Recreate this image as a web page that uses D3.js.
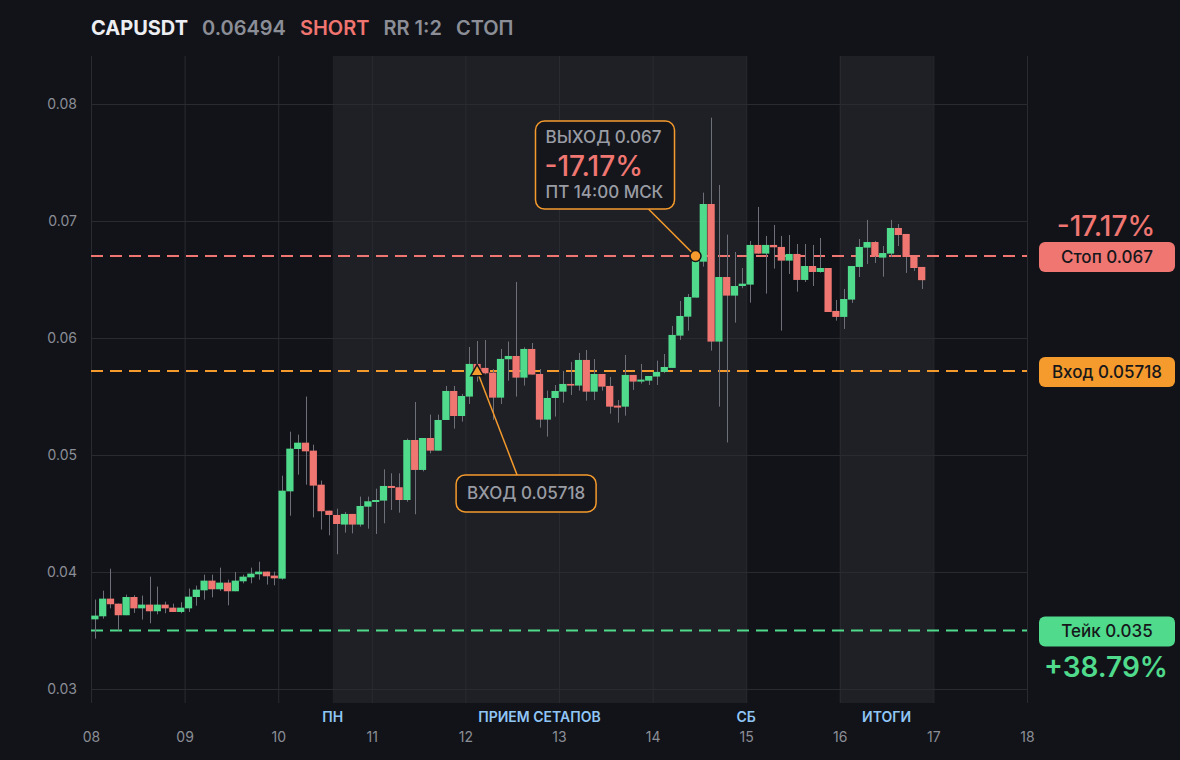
<!DOCTYPE html>
<html>
<head>
<meta charset="utf-8">
<script src="https://cdn.jsdelivr.net/npm/d3@7"></script>
<style>
  html, body { margin: 0; padding: 0; background: #121318; }
  svg { display: block; font-family: Inter, "Noto Sans", sans-serif; }
</style>
</head>
<body>
<div id="chart"></div>
<script>
// ---- data (2h candles, CAPUSDT) ----
var candleStart = Date.UTC(2025, 10, 8, 0);
var candleHours = 2;

var opens = [
  0.03595, 0.03621, 0.03772, 0.03729, 0.03630, 0.03786, 0.03689, 0.03721, 0.03664, 0.03721,
  0.03695, 0.03658, 0.03689, 0.03786, 0.03843, 0.03926, 0.03852, 0.03909, 0.03835, 0.03920,
  0.03954, 0.03980, 0.04003, 0.03969, 0.03943, 0.04689, 0.05051, 0.05105, 0.05037, 0.04746,
  0.04524, 0.04487, 0.04405, 0.04496, 0.04405, 0.04558, 0.04598, 0.04610, 0.04735, 0.04724,
  0.04615, 0.05128, 0.04872, 0.05145, 0.05037, 0.05299, 0.05547, 0.05333, 0.05499, 0.05778,
  0.05744, 0.05704, 0.05490, 0.05818, 0.05846, 0.05661, 0.05906, 0.05692, 0.05302, 0.05487,
  0.05541, 0.05607, 0.05593, 0.05812, 0.05541, 0.05692, 0.05590, 0.05422, 0.05413, 0.05684,
  0.05627, 0.05635, 0.05670, 0.05710, 0.05744, 0.06020, 0.06182, 0.06345, 0.06652, 0.07145,
  0.05969, 0.06521, 0.06362, 0.06444, 0.06456, 0.06795, 0.06721, 0.06795, 0.06778, 0.06661,
  0.06718, 0.06496, 0.06615, 0.06564, 0.06598, 0.06231, 0.06180, 0.06328, 0.06607, 0.06772,
  0.06820, 0.06687, 0.06721, 0.06940, 0.06889, 0.06701, 0.06607
];
var highs = [
  0.03764, 0.03840, 0.04028, 0.03729, 0.03806, 0.03801, 0.03798, 0.03960, 0.03875, 0.03746,
  0.03729, 0.03741, 0.03858, 0.03883, 0.03977, 0.03977, 0.04037, 0.03934, 0.04000, 0.03977,
  0.04037, 0.04088, 0.04003, 0.04003, 0.04823, 0.05199, 0.05174, 0.05499, 0.05088, 0.04781,
  0.04524, 0.04541, 0.04513, 0.04496, 0.04644, 0.04644, 0.04712, 0.04877, 0.04843, 0.04843,
  0.05140, 0.05453, 0.05145, 0.05345, 0.05345, 0.05590, 0.05590, 0.05521, 0.05923, 0.05974,
  0.05983, 0.05735, 0.05906, 0.05969, 0.06479, 0.05920, 0.05957, 0.05735, 0.05550, 0.05598,
  0.05718, 0.05795, 0.05872, 0.05897, 0.05820, 0.05692, 0.05667, 0.05470, 0.05855, 0.05684,
  0.05778, 0.05675, 0.05806, 0.05863, 0.06103, 0.06316, 0.06376, 0.06700, 0.07242, 0.07883,
  0.07308, 0.06883, 0.06735, 0.06598, 0.06829, 0.07120, 0.06872, 0.06966, 0.06872, 0.06880,
  0.06803, 0.06803, 0.06795, 0.06855, 0.06598, 0.06325, 0.06419, 0.06615, 0.06846, 0.07009,
  0.06829, 0.06786, 0.07009, 0.06974, 0.06889, 0.06701, 0.06607
];
var lows = [
  0.03430, 0.03601, 0.03689, 0.03501, 0.03630, 0.03650, 0.03593, 0.03561, 0.03638, 0.03647,
  0.03658, 0.03647, 0.03658, 0.03712, 0.03763, 0.03783, 0.03838, 0.03715, 0.03835, 0.03903,
  0.03903, 0.03934, 0.03892, 0.03886, 0.03934, 0.04481, 0.04832, 0.04746, 0.04467, 0.04362,
  0.04313, 0.04151, 0.04336, 0.04330, 0.04387, 0.04370, 0.04325, 0.04416, 0.04530, 0.04507,
  0.04600, 0.04493, 0.04860, 0.05014, 0.05037, 0.05299, 0.05225, 0.05285, 0.05436, 0.05627,
  0.05690, 0.05300, 0.05436, 0.05635, 0.05499, 0.05593, 0.05687, 0.05234, 0.05157, 0.05328,
  0.05447, 0.05513, 0.05550, 0.05464, 0.05470, 0.05550, 0.05353, 0.05276, 0.05336, 0.05556,
  0.05610, 0.05598, 0.05598, 0.05700, 0.05744, 0.05983, 0.06063, 0.06345, 0.06610, 0.05892,
  0.05413, 0.05107, 0.06131, 0.06425, 0.06302, 0.06720, 0.06379, 0.06593, 0.06063, 0.06547,
  0.06396, 0.06479, 0.06444, 0.06558, 0.06222, 0.06148, 0.06077, 0.06299, 0.06521, 0.06632,
  0.06641, 0.06524, 0.06692, 0.06786, 0.06556, 0.06573, 0.06419
];
var closes = [
  0.03627, 0.03772, 0.03724, 0.03630, 0.03786, 0.03689, 0.03721, 0.03664, 0.03721, 0.03689,
  0.03658, 0.03695, 0.03789, 0.03849, 0.03926, 0.03852, 0.03909, 0.03835, 0.03926, 0.03960,
  0.03986, 0.04003, 0.03963, 0.03946, 0.04695, 0.05054, 0.05105, 0.05031, 0.04738, 0.04519,
  0.04487, 0.04410, 0.04496, 0.04405, 0.04564, 0.04604, 0.04615, 0.04735, 0.04718, 0.04615,
  0.05128, 0.04872, 0.05145, 0.05037, 0.05299, 0.05547, 0.05333, 0.05504, 0.05778, 0.05726,
  0.05698, 0.05490, 0.05821, 0.05846, 0.05661, 0.05906, 0.05687, 0.05302, 0.05487, 0.05547,
  0.05607, 0.05593, 0.05812, 0.05541, 0.05692, 0.05584, 0.05413, 0.05405, 0.05684, 0.05627,
  0.05644, 0.05675, 0.05710, 0.05752, 0.06026, 0.06188, 0.06350, 0.06661, 0.07145, 0.05969,
  0.06521, 0.06362, 0.06444, 0.06464, 0.06795, 0.06721, 0.06795, 0.06775, 0.06661, 0.06718,
  0.06496, 0.06615, 0.06564, 0.06598, 0.06222, 0.06180, 0.06333, 0.06615, 0.06778, 0.06820,
  0.06701, 0.06726, 0.06940, 0.06880, 0.06692, 0.06598, 0.06494
];

var yTicks = [0.03, 0.04, 0.05, 0.06, 0.07, 0.08];

var zoneStarts = [Date.UTC(2025, 10, 10, 14), Date.UTC(2025, 10, 16, 0)];
var zoneEnds   = [Date.UTC(2025, 10, 15, 0),  Date.UTC(2025, 10, 17, 0)];
var zoneLabels = ["ПН", "ПРИЕМ СЕТАПОВ", "СБ", "ИТОГИ"];
var zoneLabelTimes = [Date.UTC(2025, 10, 10, 14), Date.UTC(2025, 10, 12, 19),
                      Date.UTC(2025, 10, 15, 0), Date.UTC(2025, 10, 16, 12)];

var header = ["CAPUSDT", "0.06494", "SHORT", "RR 1:2", "СТОП"];
var headerColors = ["#eceef2", "#8b8e97", "#f07470", "#8b8e97", "#8b8e97"];

var stopPrice = 0.067, entryPrice = 0.05718, takePrice = 0.035;
var entryTime = Date.UTC(2025, 10, 12, 3);
var exitTime = Date.UTC(2025, 10, 14, 11);
var stopPct = "-17.17%", takePct = "+38.79%";

// ---- setup ----
var W = 1180, H = 760;
var pLeft = 91, pRight = 1027, pTop = 56, pBottom = 703;

var GREEN = "#4fda8c", RED = "#f07672", ORANGE = "#f59a2c", GRID = "#2a2b31";

var svg = d3.select("#chart").append("svg").attr("width", W).attr("height", H);
svg.append("rect").attr("width", W).attr("height", H).attr("fill", "#121318");

var x = d3.scaleUtc()
    .domain([Date.UTC(2025, 10, 8), Date.UTC(2025, 10, 18)])
    .range([pLeft, pRight]);
var y = d3.scaleLinear().domain([0.0288, 0.0841]).range([pBottom, pTop]);

var candles = opens.map(function (o, i) {
    var t = candleStart + i * candleHours * 3600e3;
    return {t0: t, t1: t + candleHours * 3600e3, o: o, h: highs[i], l: lows[i], c: closes[i]};
});

// shaded zones
svg.append("g").selectAll("rect").data(zoneStarts).enter().append("rect")
    .attr("x", function (d) { return x(d); })
    .attr("width", function (d, i) { return x(zoneEnds[i]) - x(d); })
    .attr("y", pTop).attr("height", pBottom - pTop)
    .attr("fill", "#1f2025");

// grid
var days = x.ticks(d3.utcDay.every(1));
svg.append("g").selectAll("line").data(days).enter().append("line")
    .attr("x1", function (d) { return x(d) + 0.5; }).attr("x2", function (d) { return x(d) + 0.5; })
    .attr("y1", pTop).attr("y2", pBottom)
    .attr("stroke", GRID);
svg.append("g").selectAll("line").data(yTicks).enter().append("line")
    .attr("x1", pLeft).attr("x2", pRight)
    .attr("y1", function (d) { return Math.round(y(d)) + 0.5; })
    .attr("y2", function (d) { return Math.round(y(d)) + 0.5; })
    .attr("stroke", GRID);

// axes
var yAxis = svg.append("g").attr("transform", "translate(" + (pLeft - 14) + ",0)")
    .call(d3.axisLeft(y).tickValues(yTicks).tickSize(0).tickFormat(d3.format(".2f")));
yAxis.select(".domain").remove();
yAxis.selectAll("text").attr("fill", "#8b8e97").style("font-size", "14px").attr("x", 0)
    .style("font-family", "Inter");

var xAxis = svg.append("g").attr("transform", "translate(0," + 729 + ")")
    .call(d3.axisBottom(x).tickValues(days).tickSize(0).tickFormat(d3.utcFormat("%d")));
xAxis.select(".domain").remove();
xAxis.selectAll("text").attr("fill", "#8b8e97").style("font-size", "14px")
    .style("font-family", "Inter");

// zone labels
svg.append("g").selectAll("text").data(zoneLabels).enter().append("text")
    .attr("x", function (d, i) { return x(zoneLabelTimes[i]); })
    .attr("y", 722)
    .attr("text-anchor", "middle")
    .attr("fill", "#90c6f6")
    .style("font-size", "14px").style("font-weight", 600)
    .text(function (d) { return d; });

// level lines
var levels = [
    {p: stopPrice, color: RED},
    {p: entryPrice, color: ORANGE},
    {p: takePrice, color: GREEN}
];
svg.append("g").selectAll("line").data(levels).enter().append("line")
    .attr("x1", pLeft).attr("x2", pRight)
    .attr("y1", function (d) { return y(d.p); }).attr("y2", function (d) { return y(d.p); })
    .attr("stroke", function (d) { return d.color; })
    .attr("stroke-width", 2)
    .attr("stroke-dasharray", "12,7");

// candles
var cw = (x(candles[0].t1) - x(candles[0].t0)) * 0.93;
var cg = svg.append("g").selectAll("g").data(candles).enter().append("g");
cg.append("line")
    .attr("x1", function (d) { return Math.round(x((d.t0 + d.t1) / 2)) + 0.5; })
    .attr("x2", function (d) { return Math.round(x((d.t0 + d.t1) / 2)) + 0.5; })
    .attr("y1", function (d) { return y(d.h); })
    .attr("y2", function (d) { return y(d.l); })
    .attr("stroke", "#6d7078").attr("stroke-width", 1);
cg.append("rect")
    .attr("x", function (d) { return x((d.t0 + d.t1) / 2) - cw / 2; })
    .attr("width", cw)
    .attr("y", function (d) { return y(Math.max(d.o, d.c)); })
    .attr("height", function (d) { return Math.max(1.5, Math.abs(y(d.o) - y(d.c))); })
    .attr("fill", function (d) { return d.c >= d.o ? GREEN : RED; });

// exit annotation
var ex = x(exitTime), ey = y(stopPrice);
svg.append("line")
    .attr("x1", ex - 47).attr("y1", ey - 47).attr("x2", ex).attr("y2", ey)
    .attr("stroke", ORANGE).attr("stroke-width", 1.5);
svg.append("rect")
    .attr("x", ex - 160).attr("y", ey - 135).attr("width", 139).attr("height", 88)
    .attr("rx", 9).attr("fill", "#15161b").attr("stroke", ORANGE).attr("stroke-width", 1.5);
svg.append("text").attr("x", ex - 150).attr("y", ey - 113)
    .attr("fill", "#9a9ca4").style("font-size", "17px").style("font-weight", 500)
    .text("ВЫХОД " + stopPrice);
svg.append("text").attr("x", ex - 151).attr("y", ey - 80)
    .attr("fill", RED).style("font-size", "28px").style("font-weight", 500)
    .text(stopPct);
svg.append("text").attr("x", ex - 150).attr("y", ey - 58)
    .attr("fill", "#9a9ca4").style("font-size", "17px").style("font-weight", 500)
    .text("ПТ 14:00 МСК");
svg.append("circle").attr("cx", ex).attr("cy", ey).attr("r", 5.5)
    .attr("fill", ORANGE).attr("stroke", "#15161b").attr("stroke-width", 1.5);

// entry annotation
var nx = x(entryTime), ny = y(entryPrice);
svg.append("line")
    .attr("x1", nx + 40).attr("y1", ny + 104).attr("x2", nx).attr("y2", ny)
    .attr("stroke", ORANGE).attr("stroke-width", 1.5);
svg.append("rect")
    .attr("x", nx - 21).attr("y", ny + 104).attr("width", 140).attr("height", 37)
    .attr("rx", 9).attr("fill", "#15161b").attr("stroke", ORANGE).attr("stroke-width", 1.5);
svg.append("text").attr("x", nx + 49).attr("y", ny + 128)
    .attr("text-anchor", "middle")
    .attr("fill", "#9a9ca4").style("font-size", "17px").style("font-weight", 500)
    .text("ВХОД " + entryPrice);
svg.append("path")
    .attr("d", d3.symbol().type(d3.symbolTriangle).size(70)())
    .attr("transform", "translate(" + nx + "," + (ny + 1) + ")")
    .attr("fill", ORANGE).attr("stroke", "#15161b").attr("stroke-width", 1.5);

// right side pills
var pills = [
    {p: stopPrice, label: "Стоп " + stopPrice, color: RED},
    {p: entryPrice, label: "Вход " + entryPrice, color: ORANGE},
    {p: takePrice, label: "Тейк " + takePrice, color: GREEN}
];
var pg = svg.append("g").selectAll("g").data(pills).enter().append("g")
    .attr("transform", function (d) { return "translate(1039," + y(d.p) + ")"; });
pg.append("rect").attr("x", 0).attr("y", -14).attr("width", 136).attr("height", 30)
    .attr("rx", 6).attr("fill", function (d) { return d.color; });
pg.append("text").attr("x", 68).attr("y", 7).attr("text-anchor", "middle")
    .attr("fill", "#16171b").style("font-size", "17px").style("font-weight", 500)
    .text(function (d) { return d.label; });

svg.append("text").attr("x", 1106).attr("y", y(stopPrice) - 20).attr("text-anchor", "middle")
    .attr("fill", RED).style("font-size", "28px").style("font-weight", 500).text(stopPct);
svg.append("text").attr("x", 1106).attr("y", y(takePrice) + 47).attr("text-anchor", "middle")
    .attr("fill", GREEN).style("font-size", "28px").style("font-weight", 600).text(takePct);

// header
var hx = 91;
header.forEach(function (s, i) {
    var t = svg.append("text").attr("x", hx).attr("y", 35)
        .attr("fill", headerColors[i])
        .style("font-size", "20px").style("font-weight", i == 0 ? 700 : 600)
        .text(s);
    hx += t.node().getComputedTextLength() + 14;
});
</script>
</body>
</html>
